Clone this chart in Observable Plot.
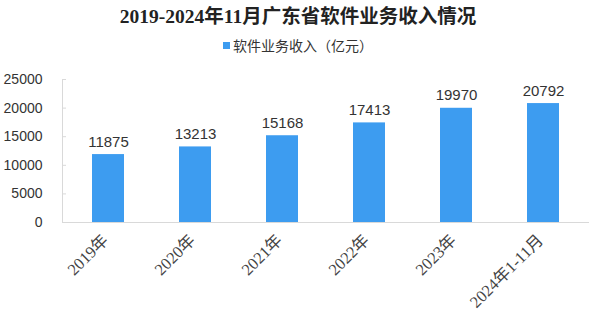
<!DOCTYPE html>
<html>
<head>
<meta charset="utf-8">
<script src="https://cdn.jsdelivr.net/npm/d3@7"></script>
<script src="https://cdn.jsdelivr.net/npm/@observablehq/plot@0.6"></script>
<style>
  html, body { margin: 0; padding: 0; background: #fff; }
  #wrap { width: 596px; height: 312px; position: relative; overflow: hidden; }
  #title { position: absolute; left: 0; top: 5px; width: 596px; text-align: center;
    font-family: "Liberation Serif", "Noto Sans CJK SC", serif; font-weight: bold; font-size: 19.5px; color: #222; line-height: 24px; }
  #legend { position: absolute; left: 0; top: 36px; width: 596px; text-align: center;
    font-family: "Noto Sans CJK SC", sans-serif; font-size: 14px; color: #333; line-height: 18px; }
  #legend .sw { display: inline-block; width: 7px; height: 7px; background: #3d9cf0; margin-right: 3px; vertical-align: 2px; }
  #chart { position: absolute; left: 0; top: 60px; }
</style>
</head>
<body>
<div id="wrap">
  <div id="title">2019-2024年11月广东省软件业务收入情况</div>
  <div id="legend"><span class="sw"></span>软件业务收入（亿元）</div>
  <div id="chart"></div>
</div>
<script>
const categories = ["2019年", "2020年", "2021年", "2022年", "2023年", "2024年1-11月"];
const revenue = [11875, 13213, 15168, 17413, 19970, 20792];
const yTicks = [0, 5000, 10000, 15000, 20000, 25000];

const data = categories.map((c, i) => ({category: c, value: revenue[i]}));

const plot = Plot.plot({
  width: 596,
  height: 252,
  marginTop: 19,
  marginBottom: 90,
  marginLeft: 62,
  marginRight: 7,
  style: {background: "transparent", overflow: "visible"},
  x: {domain: categories, paddingInner: 0.636, paddingOuter: 0.318, label: null},
  y: {domain: [0, 25000], ticks: yTicks, label: null},
  marks: [
    Plot.axisY({ticks: yTicks, tickSize: 0, tickPadding: 20, label: null, fontSize: 14, fill: "#333",
      fontFamily: "Liberation Sans, Arial, sans-serif", tickFormat: d => String(d)}),
    Plot.axisY({ticks: yTicks, tickSize: 4, dx: 4, tickFormat: () => "", label: null, stroke: "#d9d9d9"}),
    Plot.barY(data, {x: "category", y: "value", fill: "#3d9cf0"}),
    Plot.ruleY([0], {stroke: "#d9d9d9"}),
    Plot.frame({anchor: "left", stroke: "#d9d9d9"}),
    Plot.text(data, {x: "category", y: "value", text: d => String(d.value), lineAnchor: "bottom", dy: -8,
      fontSize: 15, fill: "#333", fontFamily: "Liberation Sans, Arial, sans-serif"}),
    Plot.axisX({tickRotate: -45, tickSize: 0, tickPadding: 15, dx: -3, label: null, fontSize: 16.5, fill: "#444",
      fontFamily: "Liberation Serif, Noto Sans CJK SC, serif"})
  ]
});
document.getElementById("chart").appendChild(plot);
</script>
</body>
</html>
